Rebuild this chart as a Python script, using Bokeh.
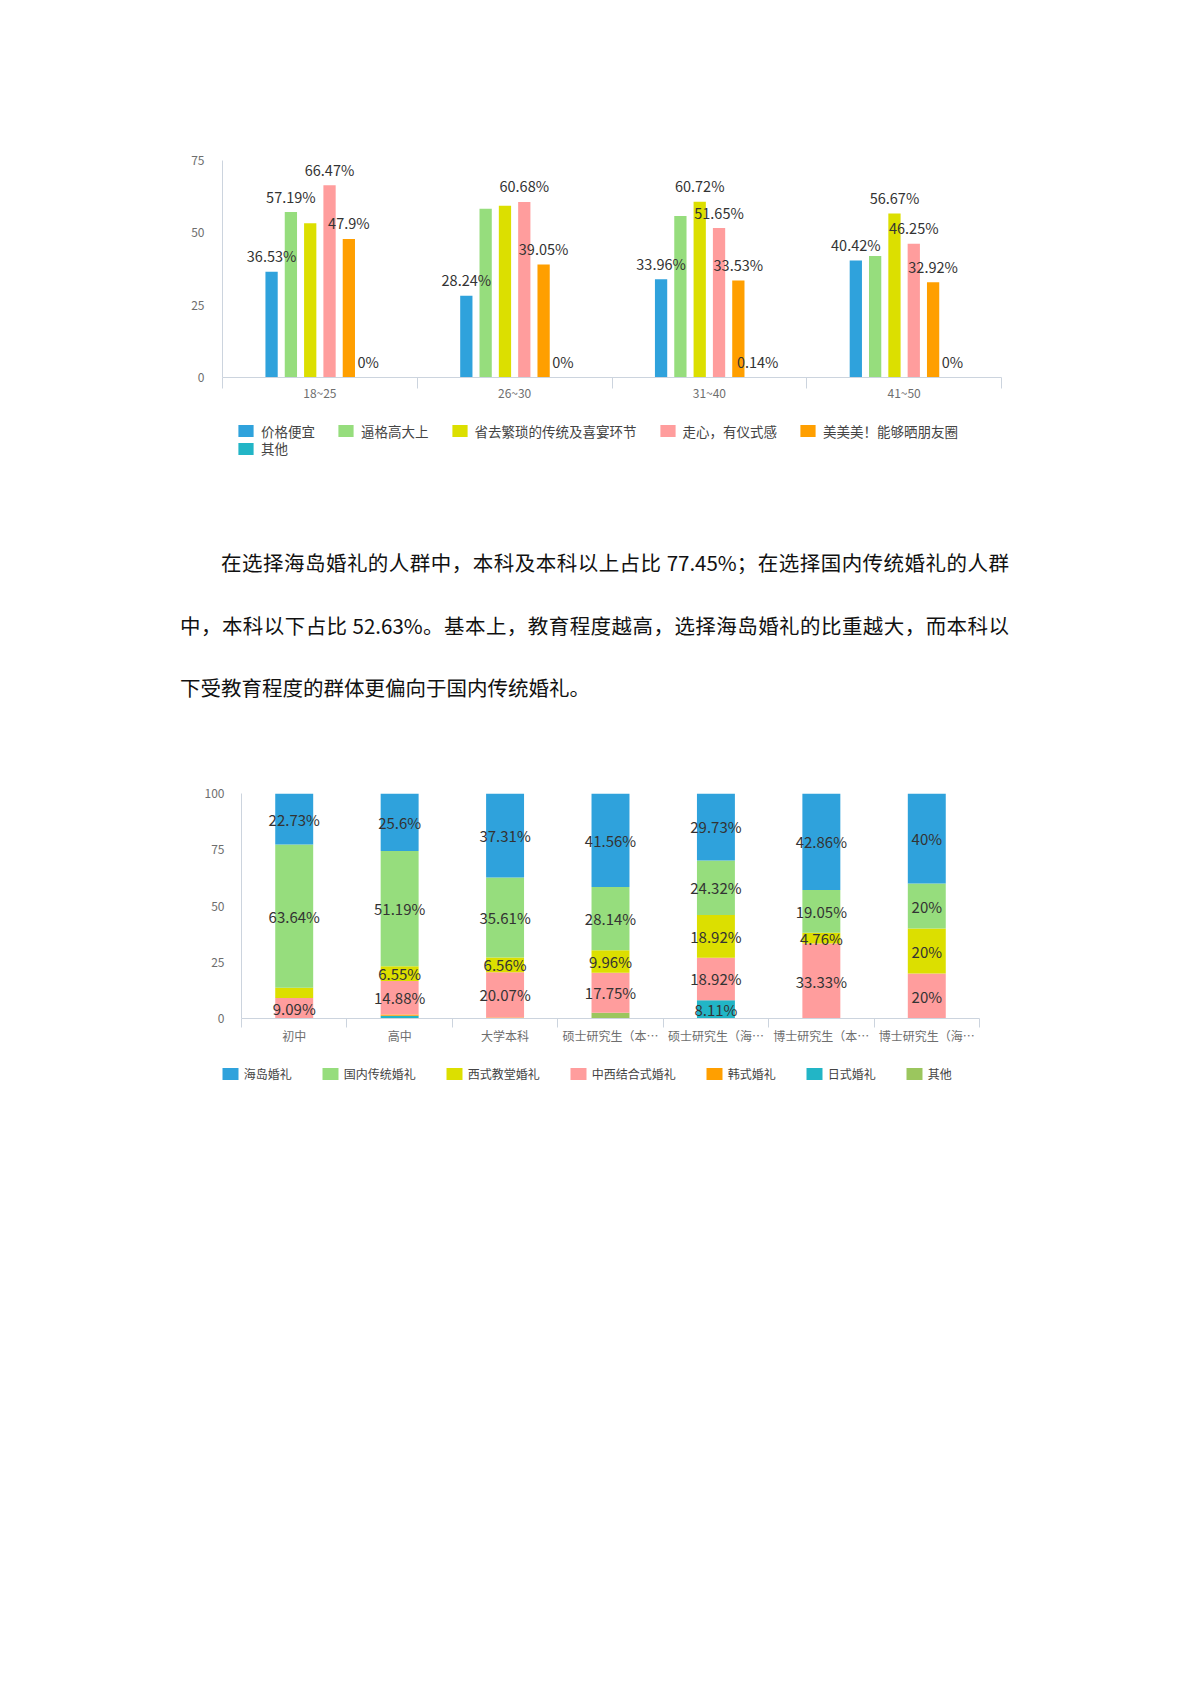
from bokeh.plotting import figure
from bokeh.models import Range1d, FixedTicker, Legend, LegendItem, Div
from bokeh.embed import file_html
from bokeh.resources import INLINE
from bokeh.core.properties import value
import numpy as np

FONT = "Noto Sans CJK SC"

# ---------------- data: chart 1 ----------------
age_groups = ["18~25", "26~30", "31~40", "41~50"]
reason_names = ["价格便宜", "逼格高大上", "省去繁琐的传统及喜宴环节",
                "走心，有仪式感", "美美美！能够晒朋友圈", "其他"]
reason_price = [36.53, 28.24, 33.96, 40.42]
reason_style = [57.19, 58.3, 55.8, 42.0]
reason_simple = [53.3, 59.4, 60.72, 56.67]
reason_heart = [66.47, 60.68, 51.65, 46.25]
reason_beauty = [47.9, 39.05, 33.53, 32.92]
reason_other = [0, 0, 0.14, 0]
# which value labels are visible in the reference
show_price = [True, True, True, True]
show_style = [True, False, False, False]
show_simple = [False, False, True, True]
show_heart = [True, True, True, True]
show_beauty = [True, True, True, True]
show_other = [True, True, True, True]
y1_ticks = [0, 25, 50, 75]

# ---------------- data: chart 2 ----------------
edu_levels = ["初中", "高中", "大学本科", "硕士研究生（本…", "硕士研究生（海…",
              "博士研究生（本…", "博士研究生（海…"]
style_names = ["海岛婚礼", "国内传统婚礼", "西式教堂婚礼", "中西结合式婚礼",
               "韩式婚礼", "日式婚礼", "其他"]
style_island = [22.73, 25.6, 37.31, 41.56, 29.73, 42.86, 40]
style_domestic = [63.64, 51.19, 35.61, 28.14, 24.32, 19.05, 20]
style_church = [4.55, 6.55, 6.56, 9.96, 18.92, 4.76, 20]
style_mixed = [9.09, 14.88, 20.07, 17.75, 18.92, 33.33, 20]
style_korean = [0, 0.6, 0.45, 0, 0, 0, 0]
style_japanese = [0, 1.19, 0, 0, 8.11, 0, 0]
style_other = [0, 0, 0, 2.59, 0, 0, 0]
showl_island = [True] * 7
showl_domestic = [True] * 7
showl_church = [False, True, True, True, True, True, True]
showl_mixed = [True] * 7
showl_korean = [False] * 7
showl_japanese = [False, False, False, False, True, False, False]
showl_other = [False] * 7
y2_ticks = [0, 25, 50, 75, 100]

paragraph_lines = [
    "在选择海岛婚礼的人群中，本科及本科以上占比 77.45%；在选择国内传统婚礼的人群",
    "中，本科以下占比 52.63%。基本上，教育程度越高，选择海岛婚礼的比重越大，而本科以",
    "下受教育程度的群体更偏向于国内传统婚礼。",
]

# ---------------- styles ----------------
C_BLUE = "#2fa2dc"
C_GREEN = "#96dd7d"
C_YELLOW = "#dcdf00"
C_PINK = "#ff9d9d"
C_ORANGE = "#ff9f00"
C_TEAL = "#22b5c6"
C_OLIVE = "#9bc65e"
AXC = "#ccd4de"
TICK_TXT = "#6e6e6e"
LABEL_TXT = "#333333"
PAGE_W = 1190


def style_axes(p, n, cats, ytick_vals, x_tick_len, x_standoff, y_standoff):
    p.outline_line_color = None
    p.xgrid.visible = False
    p.ygrid.visible = False
    xa = p.xaxis[0]
    xa.ticker = FixedTicker(ticks=[i + 0.5 for i in range(n)],
                            minor_ticks=list(range(n + 1)))
    xa.major_label_overrides = {i + 0.5: c for i, c in enumerate(cats)}
    xa.major_tick_line_color = None
    xa.major_tick_out = 0
    xa.major_tick_in = 0
    xa.minor_tick_line_color = AXC
    xa.minor_tick_out = 0
    xa.minor_tick_in = -x_tick_len   # drawn outward without pushing the labels
    xa.axis_line_color = AXC
    xa.major_label_standoff = x_standoff
    xa.major_label_text_font = FONT
    xa.major_label_text_font_size = "12px"
    xa.major_label_text_color = TICK_TXT
    ya = p.yaxis[0]
    ya.ticker = FixedTicker(ticks=ytick_vals)
    ya.major_tick_line_color = None
    ya.major_tick_out = 0
    ya.major_tick_in = 0
    ya.minor_tick_line_color = None
    ya.axis_line_color = AXC
    ya.major_label_standoff = y_standoff
    ya.major_label_text_font = FONT
    ya.major_label_text_font_size = "12px"
    ya.major_label_text_color = TICK_TXT


def legend_strip(height, names, colors, xs_list, vals_list, width, rows,
                 font_size, gw, gh, standoff, spacing):
    """A frame-only figure that carries the horizontal Legend rows.
    Its renderers repeat the chart's bars, kept out of view by the x range."""
    f = figure(width=PAGE_W, height=height, x_range=Range1d(-3, -2), y_range=Range1d(0, 1),
               output_backend="svg", toolbar_location=None, x_axis_location=None,
               y_axis_location=None, min_border=0)
    f.outline_line_color = None
    f.xgrid.visible = False
    f.ygrid.visible = False
    rends = [f.vbar(x=xs, top=v, width=width, fill_color=c, line_color=None)
             for xs, v, c in zip(xs_list, vals_list, colors)]
    for (start, stop, loc) in rows:
        items = [LegendItem(label=n, renderers=[r])
                 for n, r in zip(names[start:stop], rends[start:stop])]
        f.add_layout(Legend(items=items, location=loc, orientation="horizontal",
                            glyph_width=gw, glyph_height=gh, label_standoff=standoff,
                            spacing=spacing, padding=0, margin=0, label_height=gh,
                            border_line_color=None, background_fill_alpha=0,
                            label_text_font=FONT, label_text_font_size=font_size,
                            label_text_color="#444444"))
    return f


def pct(v):
    return f"{v:g}%"


# ---------------- chart 1 ----------------
p1 = figure(width=PAGE_W, height=415, x_range=Range1d(0, len(age_groups)),
            y_range=Range1d(0, y1_ticks[-1]), output_backend="svg",
            toolbar_location=None, min_border_left=222, min_border_right=189,
            min_border_top=160, min_border_bottom=38)
style_axes(p1, len(age_groups), age_groups, y1_ticks, 11, 6, 18)

series1 = [reason_price, reason_style, reason_simple, reason_heart, reason_beauty, reason_other]
shows1 = [show_price, show_style, show_simple, show_heart, show_beauty, show_other]
colors1 = [C_BLUE, C_GREEN, C_YELLOW, C_PINK, C_ORANGE, C_TEAL]
STEP1 = 0.0992
BW1 = 0.063
labels1 = {"x": [], "y": [], "t": []}
xs1_list = []
nser = len(series1)
for j, (vals, flags, col) in enumerate(zip(series1, shows1, colors1)):
    xs = [i + 0.5 + (j - (nser - 1) / 2) * STEP1 for i in range(len(age_groups))]
    xs1_list.append(xs)
    p1.vbar(x=xs, top=vals, width=BW1, fill_color=col, line_color=None)
    for x, v, f in zip(xs, vals, flags):
        if f:
            labels1["x"].append(x)
            labels1["y"].append(v)
            labels1["t"].append(pct(v))
p1.text(x=labels1["x"], y=labels1["y"], text=labels1["t"], text_align="center",
        text_baseline="alphabetic", y_offset=-16, text_font=value(FONT),
        text_font_size="14.5px", text_color=LABEL_TXT)

leg1 = legend_strip(65, reason_names, colors1, xs1_list, series1, BW1,
                    [(0, 5, (236, 39.5)), (5, 6, (236, 22))],
                    "13.5px", 19, 15, 6, 21)

# ---------------- paragraph ----------------
html = (
    f"<div style=\"font-family:'{FONT}';font-size:20.5px;line-height:62.5px;color:#111;"
    "margin-left:180px;width:829px;padding-top:51px;\">"
    f"<div style='text-align:justify;text-align-last:justify;text-indent:41px;'>{paragraph_lines[0]}</div>"
    f"<div style='text-align:justify;text-align-last:justify;'>{paragraph_lines[1]}</div>"
    f"<div>{paragraph_lines[2]}</div>"
    "</div>"
)
div = Div(text=html, width=PAGE_W, height=280, margin=(0, 0, 0, 0))

# ---------------- chart 2 ----------------
p2 = figure(width=PAGE_W, height=291, x_range=Range1d(0, len(edu_levels)),
            y_range=Range1d(0, y2_ticks[-1]), output_backend="svg",
            toolbar_location=None, min_border_left=241, min_border_right=211,
            min_border_top=33, min_border_bottom=33)
style_axes(p2, len(edu_levels), edu_levels, y2_ticks, 9, 8, 17)

series2 = [style_island, style_domestic, style_church, style_mixed,
           style_korean, style_japanese, style_other]
shows2 = [showl_island, showl_domestic, showl_church, showl_mixed,
          showl_korean, showl_japanese, showl_other]
colors2 = [C_BLUE, C_GREEN, C_YELLOW, C_PINK, C_ORANGE, C_TEAL, C_OLIVE]
BW2 = 0.36
xs2 = [i + 0.5 for i in range(len(edu_levels))]
bottom = np.zeros(len(edu_levels))
labels2 = {"x": [], "y": [], "t": []}
for j in reversed(range(len(series2))):   # stacked from the bottom in reverse order
    vals = np.array(series2[j], dtype=float)
    top = bottom + vals
    p2.vbar(x=xs2, bottom=list(bottom), top=list(top), width=BW2,
            fill_color=colors2[j], line_color=None)
    for x, b, t, v, f in zip(xs2, bottom, top, series2[j], shows2[j]):
        if f:
            labels2["x"].append(x)
            labels2["y"].append((b + t) / 2)
            labels2["t"].append(pct(v))
    bottom = top
p2.text(x=labels2["x"], y=labels2["y"], text=labels2["t"], text_align="center",
        text_baseline="middle", text_font=value(FONT), text_font_size="15px",
        text_color=LABEL_TXT)

leg2 = legend_strip(49, style_names, colors2, [xs2] * len(series2), series2, BW2,
                    [(0, 7, (219.7, 18.2))], "12px", 20, 15, 4, 28)

open("out.html", "w").write(file_html([p1, leg1, div, p2, leg2], INLINE))
